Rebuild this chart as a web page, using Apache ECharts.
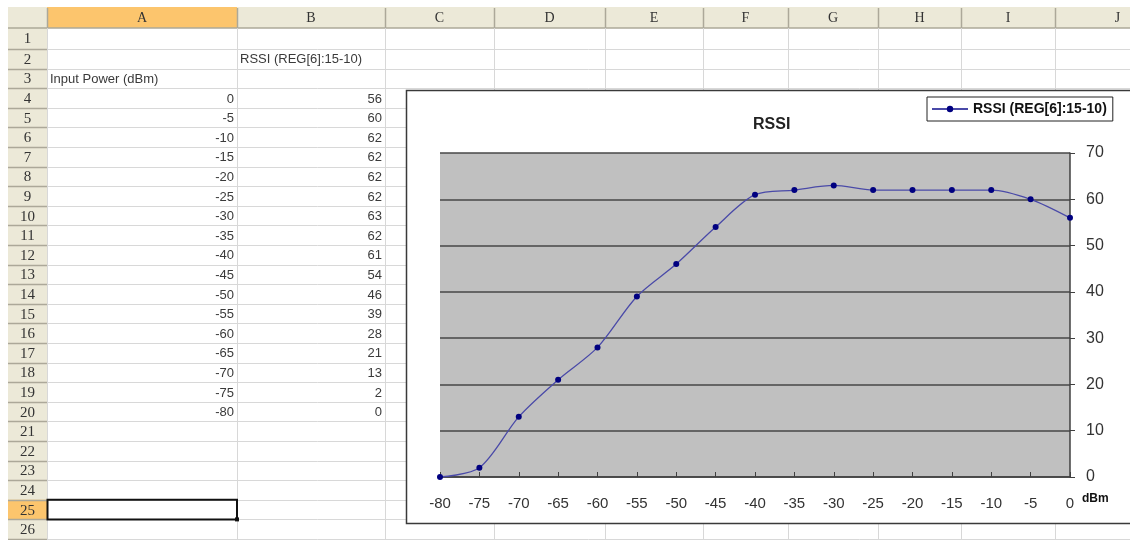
<!DOCTYPE html>
<html>
<head>
<meta charset="utf-8">
<script src="https://cdn.jsdelivr.net/npm/echarts@6/dist/echarts.min.js"></script>
<style>
html,body{margin:0;padding:0;background:#fff;}
#main{width:1130px;height:540px;}
</style>
</head>
<body>
<div id="main"></div>
<script>
// ---- data ----
var columnLetters = ['A','B','C','D','E','F','G','H','I','J'];
var rowNumbers = [1,2,3,4,5,6,7,8,9,10,11,12,13,14,15,16,17,18,19,20,21,22,23,24,25,26];
var headerB = 'RSSI (REG[6]:15-10)';
var headerA = 'Input Power (dBm)';
var inputPower = [0,-5,-10,-15,-20,-25,-30,-35,-40,-45,-50,-55,-60,-65,-70,-75,-80];
var rssi = [56,60,62,62,62,62,63,62,61,54,46,39,28,21,13,2,0];
var seriesName = 'RSSI (REG[6]:15-10)';
var chartTitle = 'RSSI';
var xUnit = 'dBm';

// ---- layout helpers (positions only) ----
var colX = [47, 237, 385, 494, 605, 703, 788, 878, 961, 1055, 1180];
function rowY(i){ return i === 0 ? 28 : 49 + (i-1)*19.6; }

var els = [];
els.push({type:'rect', shape:{x:8,y:7,width:1130,height:21}, style:{fill:'#ece9d8'}, z:-5});
els.push({type:'rect', shape:{x:8,y:28,width:39,height:520}, style:{fill:'#ece9d8'}, z:-5});
els.push({type:'rect', shape:{x:47,y:7,width:190,height:21}, style:{fill:'#fcc56d'}, z:-4});
els.push({type:'rect', shape:{x:8,y:rowY(24),width:39,height:rowY(25)-rowY(24)}, style:{fill:'#fcc56d'}, z:-4});
for (var i=1;i<=26;i++){
  var y = Math.round(rowY(i))+0.5;
  els.push({type:'line', shape:{x1:47,y1:y,x2:1130,y2:y}, style:{stroke:'#d8d8d8',lineWidth:1}, z:-4});
  els.push({type:'line', shape:{x1:8,y1:y,x2:47,y2:y}, style:{stroke:'#aca899',lineWidth:1.5}, z:-4});
}
els.push({type:'line', shape:{x1:8,y1:28,x2:1130,y2:28}, style:{stroke:'#aca899',lineWidth:1.5}, z:-4});
for (var c=0;c<colX.length-1;c++){
  var x = colX[c]+0.5;
  els.push({type:'line', shape:{x1:x,y1:28,x2:x,y2:540}, style:{stroke:'#d8d8d8',lineWidth:1}, z:-4});
  els.push({type:'line', shape:{x1:x,y1:8,x2:x,y2:28}, style:{stroke:'#aca899',lineWidth:1.5}, z:-4});
}
for (var c2=0;c2<columnLetters.length;c2++){
  els.push({type:'text', x:(colX[c2]+colX[c2+1])/2, y:18, style:{text:columnLetters[c2], fill:'#333', font:'14px "Liberation Serif"', align:'center', verticalAlign:'middle'}, z:-3});
}
for (var r=0;r<rowNumbers.length;r++){
  els.push({type:'text', x:27.5, y:(rowY(r)+rowY(r+1))/2+1, style:{text:String(rowNumbers[r]), fill:'#333', font:'15px "Liberation Serif"', align:'center', verticalAlign:'middle'}, z:-3});
}
function rowMid(row){ return (rowY(row-1)+rowY(row))/2+1; }
els.push({type:'text', x:240, y:rowMid(2), style:{text:headerB, fill:'#3a3a3a', font:'13px "Liberation Sans"', align:'left', verticalAlign:'middle'}, z:-3});
els.push({type:'text', x:50, y:rowMid(3), style:{text:headerA, fill:'#3a3a3a', font:'13px "Liberation Sans"', align:'left', verticalAlign:'middle'}, z:-3});
for (var k=0;k<inputPower.length;k++){
  els.push({type:'text', x:234, y:rowMid(4+k), style:{text:String(inputPower[k]), fill:'#3a3a3a', font:'13px "Liberation Sans"', align:'right', verticalAlign:'middle'}, z:-3});
  els.push({type:'text', x:382, y:rowMid(4+k), style:{text:String(rssi[k]), fill:'#3a3a3a', font:'13px "Liberation Sans"', align:'right', verticalAlign:'middle'}, z:-3});
}
els.push({type:'rect', shape:{x:47.5,y:rowY(24),width:189.5,height:rowY(25)-rowY(24)}, style:{fill:'none',stroke:'#111',lineWidth:2}, z:-3});
els.push({type:'rect', shape:{x:235,y:rowY(25)-2,width:4,height:4}, style:{fill:'#111'}, z:-3});
els.push({type:'rect', shape:{x:406.5,y:90.5,width:740,height:433}, style:{fill:'#fff',stroke:'#3a3a3a',lineWidth:1.5}, z:-2});
els.push({type:'text', x:1082, y:499, style:{text:xUnit, fill:'#111', font:'bold 12px "Liberation Sans"', align:'left', verticalAlign:'middle'}, z:10});

var lineData = inputPower.map(function(p,i){ return [p, rssi[i]]; });

var chart = echarts.init(document.getElementById('main'), null, {renderer:'canvas'});
chart.setOption({
  animation:false,
  backgroundColor:'#fff',
  graphic:{elements:els},
  title:{text:chartTitle, left:748, top:112, textStyle:{fontSize:16, fontWeight:'bold', color:'#222', fontFamily:'Liberation Sans'}},
  legend:{
    data:[seriesName], left:927, top:97, orient:'horizontal',
    borderColor:'#222', borderWidth:1, padding:[5,6,5,4],
    itemWidth:36, itemHeight:8, itemGap:4,
    textStyle:{fontSize:14, fontWeight:'bold', color:'#111', fontFamily:'Liberation Sans'}
  },
  grid:{left:440, top:153, width:630, height:324, show:true, backgroundColor:'#c0c0c0', borderWidth:0},
  xAxis:{
    type:'value', min:-80, max:0, interval:5,
    axisLine:{show:true, onZero:false, lineStyle:{color:'#404040', width:1.5}},
    axisTick:{show:true, inside:true, length:5, lineStyle:{color:'#404040'}},
    axisLabel:{margin:19, fontSize:15, color:'#333', fontFamily:'Liberation Sans'},
    splitLine:{show:false}
  },
  yAxis:{
    type:'value', position:'right', min:0, max:70, interval:10,
    axisLine:{show:true, lineStyle:{color:'#404040', width:1.5}},
    axisTick:{show:true, inside:false, length:5, lineStyle:{color:'#404040'}},
    axisLabel:{margin:16, fontSize:16, color:'#333', fontFamily:'Liberation Sans'},
    splitLine:{show:true, lineStyle:{color:'#474747', width:1.5}}
  },
  series:[{
    name:seriesName, type:'line', data:lineData, smooth:0.3,
    symbol:'circle', symbolSize:6,
    lineStyle:{color:'#4a4aa8', width:1.3},
    itemStyle:{color:'#000080'}
  }]
});
</script>
</body>
</html>
